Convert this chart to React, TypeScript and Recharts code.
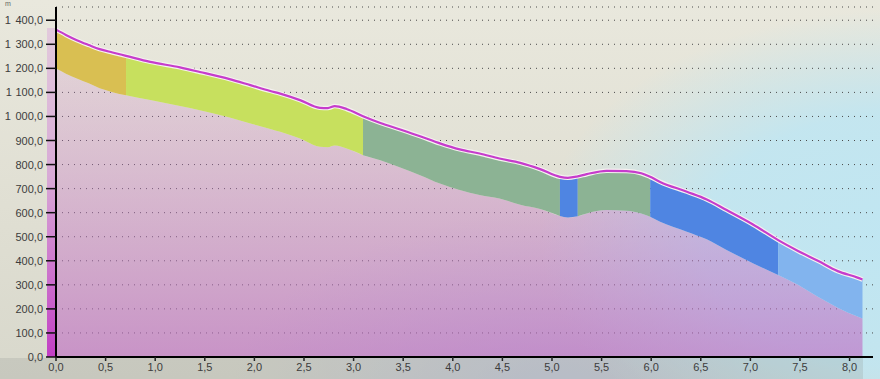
import { Area, CartesianGrid, ComposedChart, Line, XAxis, YAxis } from "recharts";

// Elevation profile: distance (km) against elevation (m)
const distanceKm = [
  0, 0.1, 0.21, 0.33, 0.44, 0.57, 0.706, 0.95, 1.25, 1.45, 1.75, 1.96, 2.16, 2.26, 2.46, 2.66,
  2.74, 2.81, 2.93, 3.095, 3.27, 3.47, 3.67, 3.87, 4.07, 4.27, 4.47, 4.68, 4.88, 5.08, 5.16,
  5.26, 5.35, 5.55, 5.75, 5.9, 5.99, 6.09, 6.36, 6.56, 6.76, 7.03, 7.28, 7.48, 7.68, 7.88,
  8.08, 8.13,
];
const topElevation = [
  1361, 1339, 1317, 1297, 1280, 1266, 1252, 1227, 1204, 1185, 1155, 1130, 1106, 1095, 1068, 1036,
  1035, 1043, 1031, 1001, 973, 946, 918, 888, 863, 846, 825, 807, 781, 749, 745,
  751, 760, 774, 773, 764, 749, 728, 687, 655, 611, 550, 486, 441, 400, 357,
  330, 322,
];
const bottomElevation = [
  1199, 1178, 1158, 1138, 1117, 1101, 1088, 1068, 1043, 1026, 996, 971, 948, 936, 908, 874,
  872, 879, 867, 839, 818, 788, 756, 721, 694, 673, 659, 633, 615, 586, 580,
  585, 597, 611, 608, 597, 583, 562, 521, 489, 445, 389, 341, 300, 250, 205,
  168, 160,
];

// Coloured sections along the route
const segmentStartKm = [0, 0.706, 3.095, 5.08, 5.26, 5.99, 7.28];
const segmentEndKm = [0.706, 3.095, 5.08, 5.26, 5.99, 7.28, 8.13];
const segmentColors = ["#d9bf52", "#c7e05e", "#8cb394", "#4f85e2", "#8cb394", "#4f85e2", "#82b4ee"];

const yTicks = [0, 100, 200, 300, 400, 500, 600, 700, 800, 900, 1000, 1100, 1200, 1300, 1400];
const xTicks = [0, 0.5, 1, 1.5, 2, 2.5, 3, 3.5, 4, 4.5, 5, 5.5, 6, 6.5, 7, 7.5, 8];

const chartData = distanceKm.map((km, i) => {
  const row: Record<string, number | [number, number] | null> = {
    km,
    top: topElevation[i],
    bottom: bottomElevation[i],
  };
  segmentStartKm.forEach((start, s) => {
    const inside = km >= start - 1e-9 && km <= segmentEndKm[s] + 1e-9;
    row[`seg${s}`] = inside ? [bottomElevation[i], topElevation[i]] : null;
  });
  return row;
});

function formatKm(v: number): string {
  return v.toFixed(1).replace(".", ",");
}

function XTick({ x, y, payload }: any) {
  return (
    <text x={x} y={y + 8} textAnchor="middle" fill="#3c3c3c" fontSize={11}>
      {formatKm(payload.value)}
    </text>
  );
}

// "1 400,0" style: space as thousands separator, comma decimal
function YTick({ x, y, payload }: any) {
  const [int, dec] = Number(payload.value).toFixed(1).split(".");
  const thousands = int.length > 3 ? int.slice(0, -3) : "";
  const rest = int.length > 3 ? int.slice(-3) : int;
  return (
    <text x={x} y={y + 4} textAnchor="end" fill="#3c3c3c" fontSize={11} xmlSpace="preserve">
      {thousands && <tspan>{thousands}</tspan>}
      <tspan dx={thousands ? 4.5 : 0}>{`${rest},${dec}`}</tspan>
    </text>
  );
}

export default function App() {
  return (
    <div
      style={{
        position: "absolute",
        left: 0,
        top: 0,
        width: 880,
        height: 379,
        overflow: "hidden",
        fontFamily: "'Liberation Sans', Arial, sans-serif",
        background:
          "radial-gradient(ellipse 360px 230px at 900px 240px, rgba(192,230,242,1) 0%, rgba(192,230,242,0.9) 55%, rgba(192,230,242,0) 100%), radial-gradient(ellipse 330px 190px at 560px 400px, rgba(175,185,225,0.55) 0%, rgba(175,185,225,0) 100%), linear-gradient(180deg, #e9e8dd 0%, #dfded2 60%, #d8d8cc 100%)",
      }}
    >
      {/* strip under the x axis labels */}
      <div
        style={{
          position: "absolute",
          left: 0,
          top: 358,
          width: 863,
          height: 21,
          background: "rgba(140,146,140,0.22)",
        }}
      />
      {/* elevation colour strip beside the y axis */}
      <div
        style={{
          position: "absolute",
          left: 47,
          top: 28,
          width: 9,
          height: 329,
          background: "linear-gradient(180deg, #e2cadc 0%, #d8aad6 45%, #cc72cc 75%, #c23ec4 100%)",
        }}
      />
      <div style={{ position: "absolute", left: 5, top: 0, fontSize: 7, color: "#666" }}>m</div>
      <div style={{ position: "absolute", left: 0, top: 0 }}>
        <ComposedChart width={880} height={379} data={chartData} margin={{ top: 7, right: 7, bottom: 0, left: 0 }}>
          <defs>
            <linearGradient id="groundFill" x1="0" y1="0" x2="0" y2="1">
              <stop offset="0%" stopColor="rgb(205,130,200)" stopOpacity={0.2} />
              <stop offset="100%" stopColor="rgb(190,105,195)" stopOpacity={0.62} />
            </linearGradient>
          </defs>
          <XAxis
            dataKey="km"
            type="number"
            domain={[0, 8.236]}
            ticks={xTicks}
            interval={0}
            height={22}
            tickSize={4}
            tick={<XTick />}
            axisLine={{ stroke: "#000", strokeWidth: 2 }}
            tickLine={{ stroke: "#222", strokeWidth: 1.5 }}
          />
          <YAxis
            type="number"
            domain={[0, 1455]}
            ticks={yTicks}
            interval={0}
            width={56}
            tickSize={10}
            tickMargin={3}
            tick={<YTick />}
            axisLine={{ stroke: "#000", strokeWidth: 2 }}
            tickLine={{ stroke: "#111", strokeWidth: 1.5 }}
          />
          <Area
            type="monotone"
            dataKey="bottom"
            stroke="none"
            fill="url(#groundFill)"
            fillOpacity={1}
            isAnimationActive={false}
            dot={false}
            activeDot={false}
          />
          {segmentColors.map((color, s) => (
            <Area
              key={s}
              type="monotone"
              dataKey={`seg${s}`}
              stroke="none"
              fill={color}
              fillOpacity={1}
              isAnimationActive={false}
              dot={false}
              activeDot={false}
            />
          ))}
          <CartesianGrid vertical={false} stroke="#4a4a4a" strokeDasharray="1 5" />
          <Line
            type="monotone"
            dataKey="top"
            stroke="#f6f2f0"
            strokeWidth={4.5}
            dot={false}
            activeDot={false}
            isAnimationActive={false}
          />
          <Line
            type="monotone"
            dataKey="top"
            stroke="#c63ccc"
            strokeWidth={2.2}
            dot={false}
            activeDot={false}
            isAnimationActive={false}
          />
        </ComposedChart>
      </div>
    </div>
  );
}
